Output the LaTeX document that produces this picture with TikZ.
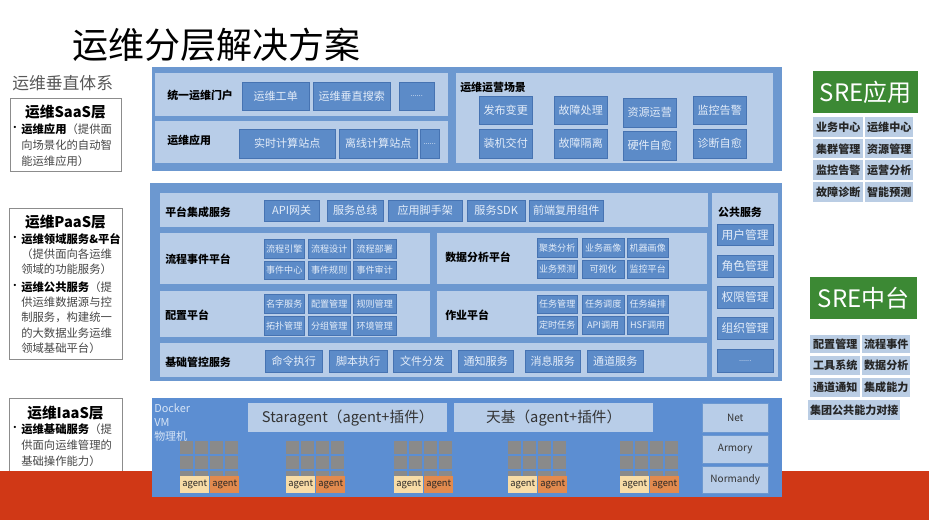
\documentclass[tikz,border=0pt]{standalone}
\usepackage{fontspec}
\setmainfont{Noto Sans CJK SC}

\newlength{\du}
\setlength{\du}{0.75pt}

\definecolor{outerblue}{RGB}{108,152,208}
\definecolor{panelblue}{RGB}{184,205,232}
\definecolor{boxblue}{RGB}{92,139,200}
\definecolor{boxedge}{RGB}{70,115,178}
\definecolor{boxtext}{RGB}{228,237,249}
\definecolor{iaasblue}{RGB}{92,142,210}
\definecolor{hostwhite}{RGB}{214,228,246}
\definecolor{servergray}{RGB}{138,138,138}
\definecolor{agentlight}{RGB}{248,220,166}
\definecolor{agentdark}{RGB}{226,138,78}
\definecolor{bandred}{RGB}{208,56,22}
\definecolor{sregreen}{RGB}{60,137,52}
\definecolor{srecellblue}{RGB}{186,205,228}
\definecolor{tierline}{RGB}{140,140,140}
\definecolor{tiergray}{RGB}{70,70,70}

% box from (x1,y1) to (x2,y2), in pixels
\newcommand{\boxat}[7]{%
\node[#1, anchor=north west, minimum width={((#5)-(#3))*\du}, minimum height={((#6)-(#4))*\du}] (#2) at ({(#3)*\du},{(#4)*\du}) {#7};}

\tikzset{
  outerblk/.style={fill=outerblue},
  panel/.style={fill=panelblue},
  svcbox/.style={fill=boxblue, draw=boxedge, line width=0.3pt, text=boxtext, inner sep=0pt, font=\fontsize{8.3}{9}\selectfont},
  minibox/.style={svcbox, font=\fontsize{6.8}{8}\selectfont},
  pubbox/.style={svcbox, font=\fontsize{8.8}{10}\selectfont},
  dotbox/.style={svcbox, font=\fontsize{5.5}{6}\selectfont},
  paneltitle/.style={anchor=west, inner sep=0pt, font=\bfseries\fontsize{8.2}{10}\selectfont},
  tierbox/.style={fill=white, draw=tierline, line width=0.6pt},
  tiertitle/.style={inner sep=0pt, font=\bfseries\fontsize{11}{12}\selectfont},
  tiertext/.style={anchor=north west, inner sep=0pt, align=left, text=tiergray, font=\fontsize{8.5}{12}\selectfont},
  bulletdot/.style={inner sep=0pt, font=\fontsize{8}{9}\selectfont},
  agentbox/.style={inner sep=0pt, text=black!85, font=\fontsize{7}{8}\selectfont},
  hostlabel/.style={anchor=west, inner sep=0pt, text=hostwhite, font=\fontsize{8.2}{10}\selectfont},
  plugpanel/.style={fill=panelblue, inner sep=0pt, text=black!80, font=\fontsize{11}{12}\selectfont},
  infrabox/.style={fill=panelblue, draw=outerblue, inner sep=0pt, text=black!80, font=\fontsize{7.5}{9}\selectfont},
  srehead/.style={fill=sregreen, inner sep=0pt, text=white, font=\fontsize{18}{20}\selectfont},
  srecell/.style={fill=srecellblue, inner sep=0pt, text=black!85, font=\bfseries\fontsize{8.3}{9}\selectfont},
}

\begin{document}
\begin{tikzpicture}
\pgftransformyscale{-1.000000}
\fill[white] (0\du,0\du) rectangle (929\du,520\du);
\useasboundingbox (0\du,0\du) rectangle (929\du,520\du);

% title
\node[anchor=west, inner sep=0pt, font=\fontsize{27}{30}\selectfont] (title) at (72\du,45\du) {运维分层解决方案};
\node[anchor=west, inner sep=0pt, text=black!65, font=\fontsize{12.6}{14}\selectfont] (vertical) at (12\du,83\du) {运维垂直体系};

% left column: the three tiers
\draw[tierbox] (10\du,98\du) rectangle (121\du,171\du);
\node[tiertitle] (saastitle) at (65.5\du,112\du) {运维SaaS层};
\node[bulletdot] (saasdot) at (15\du,129\du) {•};
\node[tiertext] (saastext) at (21\du,123\du) {{\color{black}\bfseries 运维应用}（提供面\\向场景化的自动智\\能运维应用）};

\draw[tierbox] (9\du,208\du) rectangle (122\du,359\du);
\node[tiertitle] (paastitle) at (65.5\du,222\du) {运维PaaS层};
\node[bulletdot] (paasdotA) at (15\du,239\du) {•};
\node[tiertext, font=\fontsize{8.5}{11.5}\selectfont] (paastextA) at (21\du,233\du) {{\color{black}\bfseries 运维领域服务\&平台}\\（提供面向各运维\\领域的功能服务）};
\node[bulletdot] (paasdotB) at (15\du,287\du) {•};
\node[tiertext, font=\fontsize{8.5}{11.5}\selectfont] (paastextB) at (21\du,281\du) {{\color{black}\bfseries 运维公共服务}（提\\供运维数据源与控\\制服务，构建统一\\的大数据业务运维\\领域基础平台）};

\draw[tierbox] (9\du,398\du) rectangle (122\du,472\du);
\node[tiertitle] (iaastitle) at (65.5\du,413\du) {运维IaaS层};
\node[bulletdot] (iaasdot) at (15\du,429\du) {•};
\node[tiertext] (iaastext) at (21\du,423\du) {{\color{black}\bfseries 运维基础服务}（提\\供面向运维管理的\\基础操作能力）};

% red band
\fill[bandred] (0\du,471\du) rectangle (929\du,520\du);

% SaaS block
\fill[outerblk] (152\du,67\du) rectangle (782\du,171\du);
\fill[panel] (155\du,73\du) rectangle (448\du,116\du);
\fill[panel] (155\du,121\du) rectangle (448\du,163\du);
\fill[panel] (456\du,73\du) rectangle (773\du,163\du);
\node[paneltitle] (portal) at (167\du,95\du) {统一运维门户};
\node[paneltitle] (apps) at (167\du,140\du) {运维应用};
\node[paneltitle] (ops) at (460\du,87\du) {运维运营场景};
\boxat{svcbox}{ticket}{242}{82}{309}{110}{运维工单}
\boxat{svcbox}{vsearch}{313}{82}{390}{110}{运维垂直搜索}
\boxat{dotbox}{portalmore}{399}{82}{434}{110}{......}
\boxat{svcbox}{rtsite}{239}{129}{335}{158}{实时计算站点}
\boxat{svcbox}{offsite}{339}{129}{417}{158}{离线计算站点}
\boxat{dotbox}{appmore}{420}{129}{439}{158}{......}
\boxat{svcbox}{release}{479}{96}{532}{124}{发布变更}
\boxat{svcbox}{install}{479}{129}{532}{158}{装机交付}
\boxat{svcbox}{fault}{554}{96}{607}{124}{故障处理}
\boxat{svcbox}{isolate}{554}{129}{607}{158}{故障隔离}
\boxat{svcbox}{resource}{623}{98}{676}{127}{资源运营}
\boxat{svcbox}{hwheal}{623}{131}{676}{160}{硬件自愈}
\boxat{svcbox}{monitor}{693}{96}{746}{124}{监控告警}
\boxat{svcbox}{diagheal}{693}{129}{746}{158}{诊断自愈}

% PaaS block
\fill[outerblk] (150\du,183\du) rectangle (782\du,381\du);
\fill[panel] (160\du,193\du) rectangle (708\du,227\du);
\fill[panel] (160\du,233\du) rectangle (430\du,284\du);
\fill[panel] (437\du,233\du) rectangle (707\du,284\du);
\fill[panel] (160\du,291\du) rectangle (430\du,337\du);
\fill[panel] (437\du,291\du) rectangle (707\du,337\du);
\fill[panel] (160\du,343\du) rectangle (707\du,377\du);
\fill[panel] (712\du,193\du) rectangle (778\du,377\du);
\node[paneltitle] (integ) at (165\du,212\du) {平台集成服务};
\node[paneltitle] (flow) at (165\du,259\du) {流程事件平台};
\node[paneltitle] (config) at (165\du,315\du) {配置平台};
\node[paneltitle] (basectl) at (165\du,362\du) {基础管控服务};
\node[paneltitle] (data) at (445\du,257\du) {数据分析平台};
\node[paneltitle] (job) at (445\du,315\du) {作业平台};
\node[paneltitle, anchor=center] (public) at (740\du,212\du) {公共服务};
\boxat{svcbox}{apigw}{264}{200}{319}{221}{API网关}
\boxat{svcbox}{bus}{327}{200}{383}{221}{服务总线}
\boxat{svcbox}{scaffold}{388}{200}{462}{221}{应用脚手架}
\boxat{svcbox}{sdk}{467}{200}{525}{221}{服务SDK}
\boxat{svcbox}{frontend}{529}{200}{603}{221}{前端复用组件}
\boxat{minibox}{flowA}{264}{239}{304}{258}{流程引擎}
\boxat{minibox}{flowB}{308}{239}{350}{258}{流程设计}
\boxat{minibox}{flowC}{353}{239}{396}{258}{流程部署}
\boxat{minibox}{flowD}{264}{261}{304}{279}{事件中心}
\boxat{minibox}{flowE}{308}{261}{350}{279}{事件规则}
\boxat{minibox}{flowF}{353}{261}{396}{279}{事件审计}
\boxat{minibox}{cfgA}{264}{294}{304}{313}{名字服务}
\boxat{minibox}{cfgB}{308}{294}{350}{313}{配置管理}
\boxat{minibox}{cfgC}{353}{294}{396}{313}{规则管理}
\boxat{minibox}{cfgD}{264}{316}{304}{335}{拓扑管理}
\boxat{minibox}{cfgE}{308}{316}{350}{335}{分组管理}
\boxat{minibox}{cfgF}{353}{316}{396}{335}{环境管理}
\boxat{minibox}{dataA}{537}{238}{577}{257}{聚类分析}
\boxat{minibox}{dataB}{582}{238}{624}{257}{业务画像}
\boxat{minibox}{dataC}{627}{238}{668}{257}{机器画像}
\boxat{minibox}{dataD}{537}{260}{577}{278}{业务预测}
\boxat{minibox}{dataE}{582}{260}{624}{278}{可视化}
\boxat{minibox}{dataF}{627}{260}{668}{278}{监控平台}
\boxat{minibox}{jobA}{537}{295}{577}{313}{任务管理}
\boxat{minibox}{jobB}{582}{295}{624}{313}{任务调度}
\boxat{minibox}{jobC}{627}{295}{668}{313}{任务编排}
\boxat{minibox}{jobD}{537}{316}{577}{334}{定时任务}
\boxat{minibox}{jobE}{582}{316}{624}{334}{API调用}
\boxat{minibox}{jobF}{627}{316}{668}{334}{HSF调用}
\boxat{svcbox}{cmdexec}{265}{350}{322}{372}{命令执行}
\boxat{svcbox}{scriptexec}{329}{350}{387}{372}{脚本执行}
\boxat{svcbox}{filedist}{393}{350}{451}{372}{文件分发}
\boxat{svcbox}{notify}{458}{350}{513}{372}{通知服务}
\boxat{svcbox}{message}{525}{350}{580}{372}{消息服务}
\boxat{svcbox}{channel}{587}{350}{643}{372}{通道服务}
\boxat{pubbox}{user}{717}{224}{773}{245}{用户管理}
\boxat{pubbox}{role}{717}{255}{773}{277}{角色管理}
\boxat{pubbox}{perm}{717}{286}{773}{308}{权限管理}
\boxat{pubbox}{org}{717}{317}{773}{339}{组织管理}
\boxat{dotbox}{pubmore}{717}{349}{773}{372}{......}

% IaaS block
\fill[iaasblue] (152\du,398\du) rectangle (782\du,497\du);
\node[hostlabel] (docker) at (154\du,408\du) {Docker};
\node[hostlabel] (vm) at (154\du,422\du) {VM};
\node[hostlabel] (phys) at (154\du,436\du) {物理机};
\boxat{plugpanel}{staragent}{248}{403}{447}{432}{Staragent（agent+插件）}
\boxat{plugpanel}{tianji}{454}{403}{653}{432}{天基（agent+插件）}
\boxat{infrabox}{net}{702}{403}{768}{432}{Net}
\boxat{infrabox}{armory}{702}{435}{768}{463}{Armory}
\boxat{infrabox}{normandy}{702}{466}{768}{493}{Normandy}
\foreach \gx [count=\g] in {180,286,394,508,620}{
  \foreach \c in {0,...,3}{
    \foreach \r in {0,1,2}{
      \fill[servergray] ({(\gx+15*\c)*\du},{(441+15*\r)*\du}) rectangle +(13\du,13\du);
    }
  }
  \boxat{agentbox, fill=agentlight}{agentL\g}{\gx}{476}{\gx+29}{493}{agent}
  \boxat{agentbox, fill=agentdark}{agentR\g}{\gx+30}{476}{\gx+59}{493}{agent}
}

% right column: SRE
\boxat{srehead}{sreapp}{813}{71}{918}{113}{SRE应用}
\boxat{srecell}{appA}{813}{117}{863}{137}{业务中心}
\boxat{srecell}{appB}{865}{117}{913}{137}{运维中心}
\boxat{srecell}{appC}{813}{139}{863}{158}{集群管理}
\boxat{srecell}{appD}{865}{139}{913}{158}{资源管理}
\boxat{srecell}{appE}{813}{160}{863}{180}{监控告警}
\boxat{srecell}{appF}{865}{160}{913}{180}{运营分析}
\boxat{srecell}{appG}{813}{182}{863}{202}{故障诊断}
\boxat{srecell}{appH}{865}{182}{913}{202}{智能预测}

\boxat{srehead}{sremid}{810}{277}{917}{319}{SRE中台}
\boxat{srecell}{midA}{810}{335}{860}{353}{配置管理}
\boxat{srecell}{midB}{862}{335}{910}{353}{流程事件}
\boxat{srecell}{midC}{810}{356}{860}{375}{工具系统}
\boxat{srecell}{midD}{862}{356}{910}{375}{数据分析}
\boxat{srecell}{midE}{810}{378}{860}{397}{通道通知}
\boxat{srecell}{midF}{862}{378}{910}{397}{集成能力}
\boxat{srecell}{midG}{808}{400}{900}{420}{集团公共能力对接}
\end{tikzpicture}
\end{document}
